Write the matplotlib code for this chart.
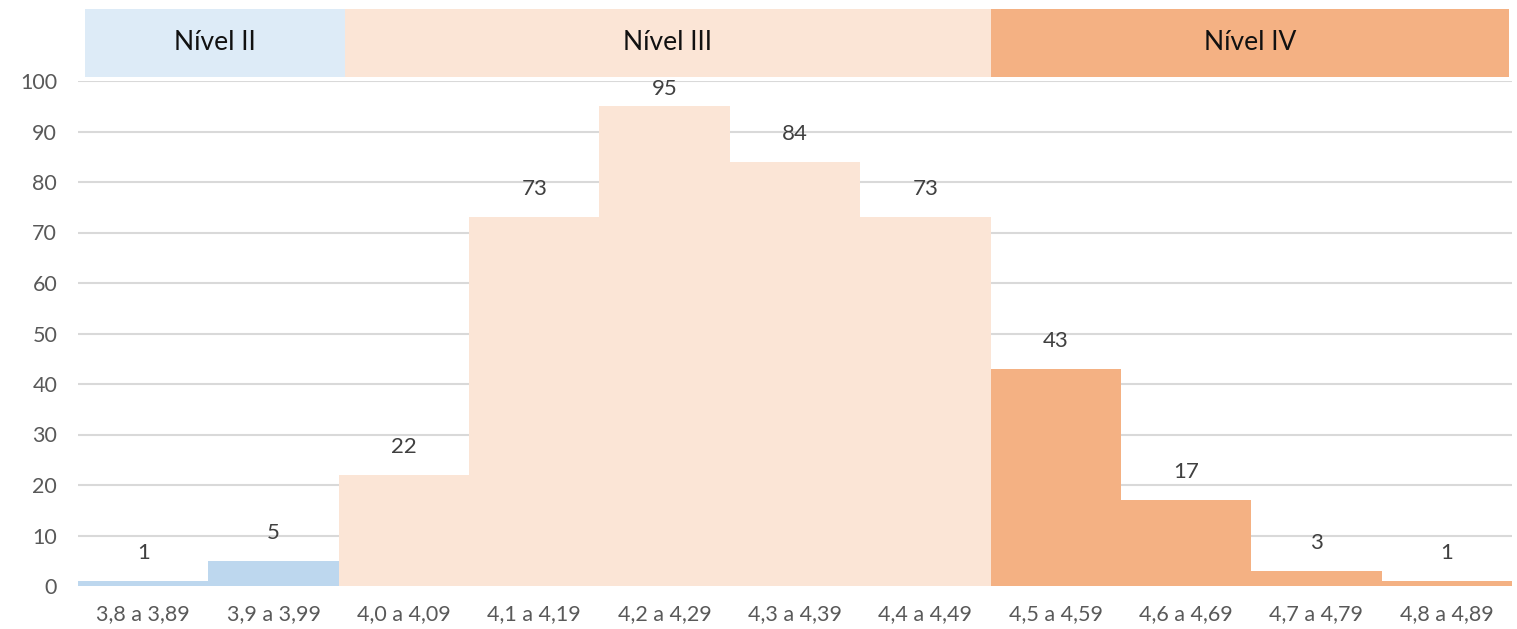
import matplotlib
matplotlib.use("Agg")
import matplotlib.pyplot as plt
from matplotlib.patches import Rectangle

categories = ["3,8 a 3,89", "3,9 a 3,99", "4,0 a 4,09", "4,1 a 4,19", "4,2 a 4,29",
              "4,3 a 4,39", "4,4 a 4,49", "4,5 a 4,59", "4,6 a 4,69", "4,7 a 4,79", "4,8 a 4,89"]
counts = [1, 5, 22, 73, 95, 84, 73, 43, 17, 3, 1]
levels = ["II", "II", "III", "III", "III", "III", "III", "IV", "IV", "IV", "IV"]
level_names = ["Nível II", "Nível III", "Nível IV"]
level_keys = ["II", "III", "IV"]
bar_colors = {"II": "#BDD7EE", "III": "#FBE5D6", "IV": "#F4B183"}
header_colors = {"II": "#DDEBF7", "III": "#FBE5D6", "IV": "#F4B183"}

plt.rcParams['font.family'] = ['Lato', 'DejaVu Sans']

fig = plt.figure(figsize=(15.17, 6.29), dpi=100)
ax = fig.add_axes([78/1517, 1 - 586/629, (1512 - 78)/1517, (586 - 81)/629])

x = list(range(len(categories)))
ax.bar(x, counts, width=1.0, color=[bar_colors[l] for l in levels], zorder=2, linewidth=0)

ax.set_xlim(-0.5, len(categories) - 0.5)
ax.set_ylim(0, 100)

# label offset ~28 px above bar top, kept inside the plot area
px_per_unit = (586 - 81) / 100.0
off = 28 / px_per_unit
max_y = 100 - 8 / px_per_unit
for xi, v in zip(x, counts):
    ax.text(xi, min(v + off, max_y), str(v), ha="center", va="center",
            fontsize=16, color="#404040", zorder=3)

ax.set_yticks(range(0, 101, 10))
ax.set_xticks(x)
ax.set_xticklabels(categories)
ax.tick_params(axis="both", length=0, labelsize=15.5, labelcolor="#595959")
ax.tick_params(axis="y", pad=15)
ax.tick_params(axis="x", pad=13)
ax.grid(axis="y", color="#D9D9D9", linewidth=1.5, zorder=0)
for s in ax.spines.values():
    s.set_visible(False)

# header bands
y0, y1 = 100.8, 114.3
for key, name in zip(level_keys, level_names):
    idx = [i for i, l in enumerate(levels) if l == key]
    left = min(idx) - 0.5
    right = max(idx) + 0.5
    if key == "II":
        left += 0.05
        right += 0.05
    if key == "III":
        left += 0.05
    if key == "IV":
        right -= 0.02
    ax.add_patch(Rectangle((left, y0), right - left, y1 - y0, facecolor=header_colors[key],
                           edgecolor="none", clip_on=False, zorder=2))
    ax.text((left + right) / 2, (y0 + y1) / 2, name, ha="center", va="center",
            fontsize=19, color="#111111", clip_on=False)

fig.savefig("out.png", dpi=100)
